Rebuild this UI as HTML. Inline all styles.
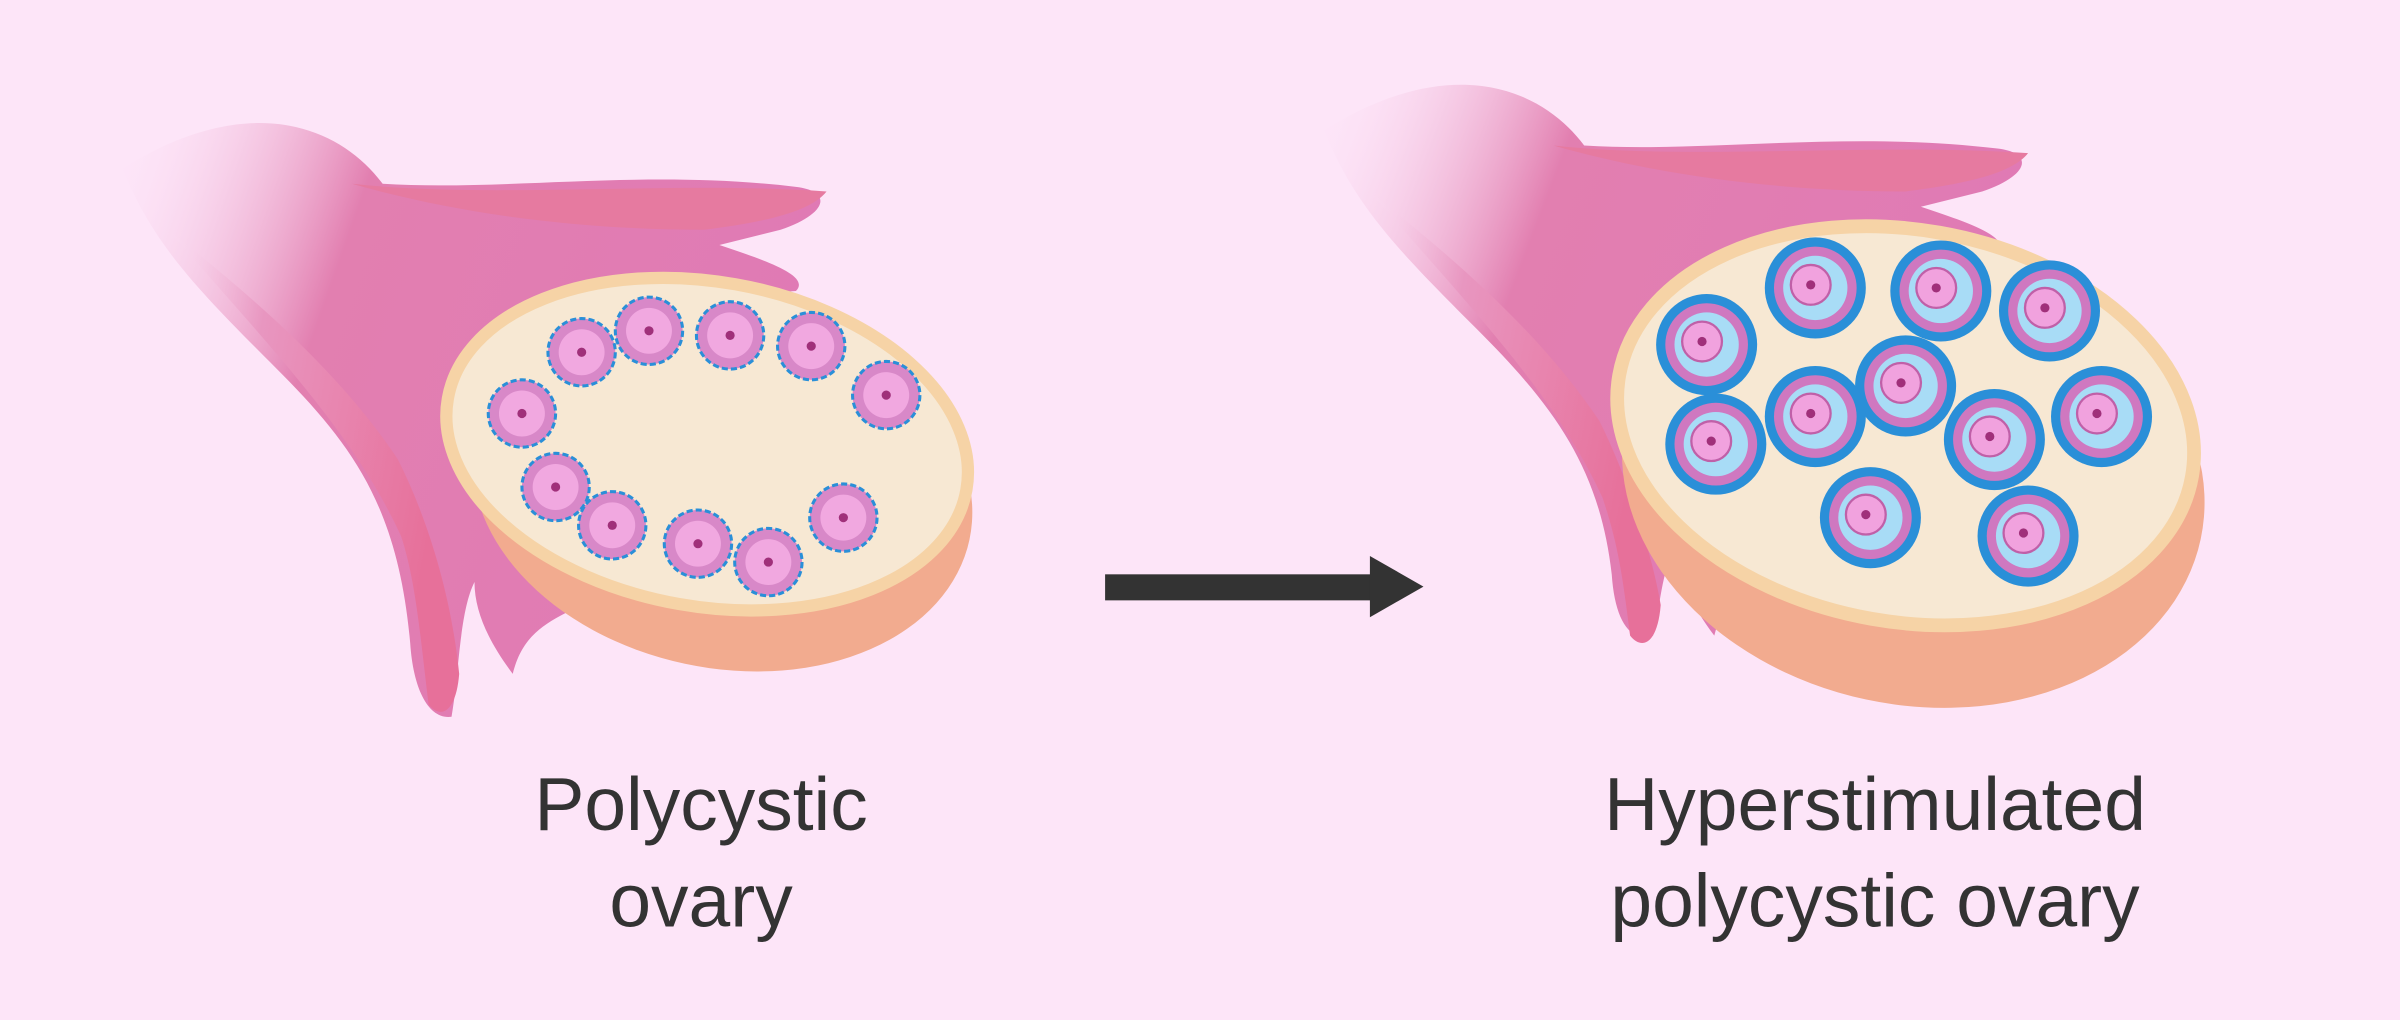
<!DOCTYPE html>
<html><head><style>html,body{margin:0;padding:0;background:#fde5f8}svg{display:block}</style></head><body>
<svg width="2400" height="1020" viewBox="0 0 1568 666" preserveAspectRatio="none" xmlns="http://www.w3.org/2000/svg">
<defs>
<linearGradient id="tg" x1="0" y1="0" x2="1" y2="0.3">
<stop offset="0" stop-color="#fde5f8" stop-opacity="0"/><stop offset="0.35" stop-color="#e27fb0"/><stop offset="1" stop-color="#e07ab5"/></linearGradient>
<linearGradient id="tg2" x1="0" y1="0" x2="1" y2="0.3">
<stop offset="0" stop-color="#fde5f8" stop-opacity="0"/><stop offset="0.35" stop-color="#e896c0"/><stop offset="1" stop-color="#e7709a"/></linearGradient>
<g id="big">
<circle r="33" fill="#2a8fd8"/><circle r="27" fill="#cf78c0"/><circle r="21" fill="#a8dcf6"/>
<circle cx="-3" cy="-2" r="13" fill="#f1a2de" stroke="#c060a8" stroke-width="1.5"/><circle cx="-3" cy="-2" r="3" fill="#a0307a"/></g>
<g id="sm">
<circle r="22" fill="#d888c8" stroke="#2a8fd8" stroke-width="2" stroke-dasharray="4 2"/><circle r="15" fill="#f1a8e0"/><circle r="3" fill="#a0307a"/></g>
</defs>
<rect width="1568" height="666" fill="#fde5f8"/>
<path d="M80,110 C160,60 220,80 250,120 C330,125 420,110 520,122 C545,125 540,140 510,150 L470,160 C500,170 530,180 520,190 L380,200 L370,400 C350,410 340,420 335,440 C320,420 310,400 310,380 C300,400 300,440 295,468 C280,470 270,450 268,420 C260,330 230,290 180,240 C130,190 100,160 80,110 Z" fill="url(#tg)"/>
<path d="M110,150 C170,220 230,280 262,350 C272,380 275,420 280,460 C288,470 298,465 300,440 C295,390 280,340 260,300 C220,240 160,190 110,150 Z" fill="url(#tg2)"/>
<path d="M230,120 C320,130 440,118 540,125 C530,138 500,145 460,150 C380,150 300,140 230,120 Z" fill="#e67aa0"/>
<ellipse cx="472" cy="318" rx="165" ry="118" transform="rotate(12 472 318)" fill="#f2ab8f"/>
<ellipse cx="462" cy="290" rx="172" ry="106" transform="rotate(10 462 290)" fill="#f7e8d3" stroke="#f6d3a6" stroke-width="8"/>
<use href="#sm" x="380" y="230"/><use href="#sm" x="424" y="216"/><use href="#sm" x="477" y="219"/><use href="#sm" x="530" y="226"/><use href="#sm" x="579" y="258"/><use href="#sm" x="341" y="270"/><use href="#sm" x="363" y="318"/><use href="#sm" x="400" y="343"/><use href="#sm" x="456" y="355"/><use href="#sm" x="502" y="367"/><use href="#sm" x="551" y="338"/>
<rect x="722" y="375" width="175" height="17" fill="#333"/>
<polygon points="895,363 930,383 895,403" fill="#333"/>
<g transform="translate(785,-25)">
<path d="M80,110 C160,60 220,80 250,120 C330,125 420,110 520,122 C545,125 540,140 510,150 L470,160 C500,170 530,180 520,190 L380,200 L370,400 C350,410 340,420 335,440 C320,420 310,400 310,380 C300,400 300,420 295,440 C280,445 270,430 268,400 C260,330 230,290 180,240 C130,190 100,160 80,110 Z" fill="url(#tg)"/>
<path d="M110,150 C170,220 230,280 262,350 C272,380 275,400 280,440 C288,450 298,445 300,420 C295,390 280,340 260,300 C220,240 160,190 110,150 Z" fill="url(#tg2)"/>
<path d="M230,120 C320,130 440,118 540,125 C530,138 500,145 460,150 C380,150 300,140 230,120 Z" fill="#e67aa0"/>
</g>
<ellipse cx="1250" cy="312" rx="192" ry="148" transform="rotate(12 1250 312)" fill="#f2ab8f"/>
<ellipse cx="1245" cy="278" rx="190" ry="128" transform="rotate(10 1245 278)" fill="#f7e8d3" stroke="#f6d3a6" stroke-width="9"/>
<use href="#big" x="1115" y="225"/><use href="#big" x="1186" y="188"/><use href="#big" x="1268" y="190"/><use href="#big" x="1339" y="203"/><use href="#big" x="1245" y="252"/><use href="#big" x="1121" y="290"/><use href="#big" x="1186" y="272"/><use href="#big" x="1303" y="287"/><use href="#big" x="1373" y="272"/><use href="#big" x="1222" y="338"/><use href="#big" x="1325" y="350"/>
<g font-family="Liberation Sans, sans-serif" font-size="49" fill="#333" text-anchor="middle">
<text x="458" y="542">Polycystic</text><text x="458" y="605">ovary</text>
<text x="1225" y="542">Hyperstimulated</text><text x="1225" y="605">polycystic ovary</text>
</g>
</svg>
</body></html>
